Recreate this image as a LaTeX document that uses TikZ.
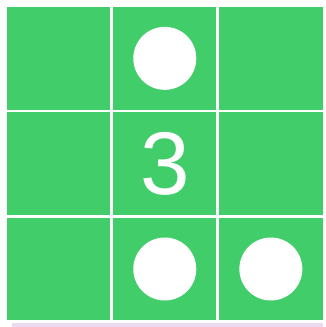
\documentclass[tikz,border=0pt]{standalone}
\usepackage{fontspec}
\setmainfont{Liberation Sans}
\definecolor{cellgreen}{RGB}{65,205,106}
\definecolor{shadowpurple}{RGB}{236,218,241}
\begin{document}
\begin{tikzpicture}[x=1pt,y=-1pt,
  cell/.style={rectangle, fill=cellgreen, draw=none, inner sep=0pt, minimum width=103.3pt, minimum height=102.8pt},
  dot/.style={circle, fill=white, draw=none, inner sep=0pt, minimum size=63pt},
  num/.style={text=white, inner sep=0pt, font=\fontsize{89}{89}\selectfont}]
\useasboundingbox (0,0) rectangle (326,327);
\fill[shadowpurple] (11.7,323.3) rectangle (323,327);
\node[cell] (c11) at (58.8,58.35) {};
\node[cell] (c12) at (164.8,58.35) {};
\node[cell] (c13) at (270.85,58.35) {};
\node[cell] (c21) at (58.8,163.6) {};
\node[cell] (c22) at (164.8,163.6) {};
\node[cell] (c23) at (270.85,163.6) {};
\node[cell] (c31) at (58.8,269) {};
\node[cell] (c32) at (164.8,269) {};
\node[cell] (c33) at (270.85,269) {};
\node[dot] (d12) at (c12.center) {};
\node[dot] (d32) at (c32.center) {};
\node[dot] (d33) at (c33.center) {};
\node[num] (n22) at (c22.center) {3};
\end{tikzpicture}
\end{document}
